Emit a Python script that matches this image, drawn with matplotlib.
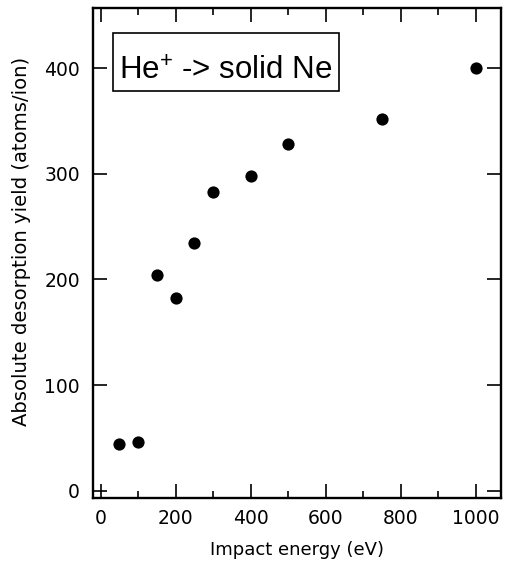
import matplotlib
matplotlib.use("Agg")
import matplotlib.pyplot as plt
from matplotlib.ticker import MultipleLocator
from matplotlib.patches import Rectangle

# Desorption yield of solid neon under He+ impact
impact_energy_eV = [50, 100, 150, 200, 250, 300, 400, 500, 750, 1000]
yield_atoms_per_ion = [44, 46, 204, 182, 235, 283, 298, 328, 352, 400]

x_label = "Impact energy (eV)"
y_label = "Absolute desorption yield (atoms/ion)"
box_text = "He$^{+}$ -> solid Ne"

plt.rcParams["font.family"] = ["DejaVu Sans"]
plt.rcParams["mathtext.fontset"] = "custom"
plt.rcParams["mathtext.rm"] = "Liberation Sans"
plt.rcParams["mathtext.default"] = "regular"

fig = plt.figure(figsize=(5.06, 5.64), dpi=100)
ax = fig.add_axes([0.1838, 0.117, 0.8062, 0.8688])

ax.plot(impact_energy_eV, yield_atoms_per_ion, "o", color="black",
        markersize=8.8, markeredgewidth=0)

ax.set_xlim(-20.5, 1067.5)
ax.set_ylim(-6.9, 457)

ax.xaxis.set_major_locator(MultipleLocator(200))
ax.xaxis.set_minor_locator(MultipleLocator(100))
ax.yaxis.set_major_locator(MultipleLocator(100))

for s in ax.spines.values():
    s.set_linewidth(1.7)

ax.tick_params(axis="both", which="major", direction="in", length=10,
               width=1.2, labelsize=13.5)
ax.tick_params(axis="x", which="major", pad=8)
ax.tick_params(axis="y", which="major", pad=9.5)
ax.tick_params(axis="x", which="minor", direction="in", length=5,
               width=1.2)
ax.tick_params(axis="x", which="both", top=True)
ax.tick_params(axis="y", which="major", right=True)
ax.tick_params(axis="y", which="minor", left=False, right=False)

ax.set_xlabel(x_label, fontsize=13, labelpad=9)
ax.set_ylabel(y_label, fontsize=14.1)
ax.yaxis.set_label_coords(-0.152, 0.524)

# Framed annotation
ax.add_patch(Rectangle((0.049, 0.831), 0.554, 0.118, transform=ax.transAxes,
                       facecolor="white", edgecolor="black", linewidth=1.2,
                       zorder=3))
ax.text(0.326, 0.853, box_text, transform=ax.transAxes, fontsize=22.5,
        family="Liberation Sans", ha="center", va="baseline", zorder=4)

fig.savefig("out.png", dpi=100)
